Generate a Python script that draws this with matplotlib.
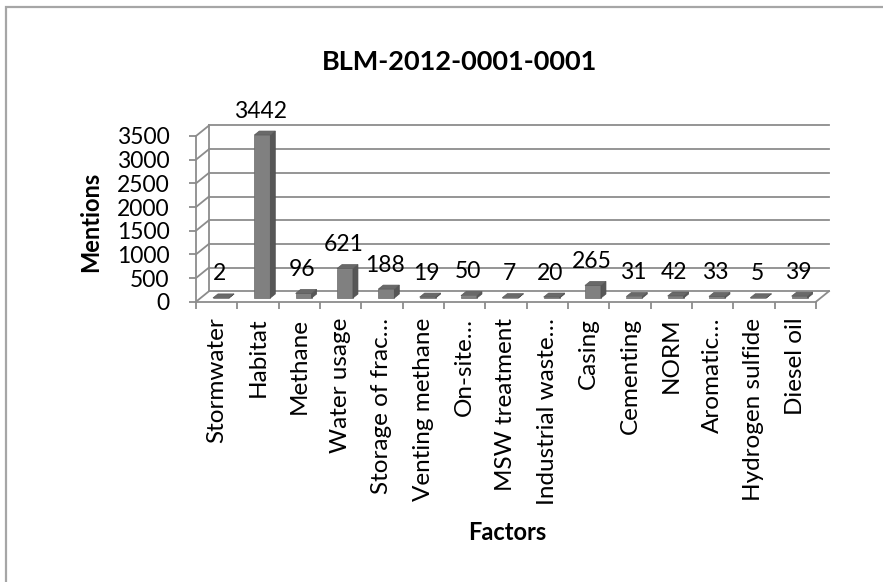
import matplotlib.pyplot as plt
from matplotlib.patches import Polygon, Rectangle

plt.rcParams['font.family'] = ['Lato', 'DejaVu Sans']

title = "BLM-2012-0001-0001"
factors = ["Stormwater", "Habitat", "Methane", "Water usage", "Storage of frac\u2026",
           "Venting methane", "On-site\u2026", "MSW treatment", "Industrial waste\u2026",
           "Casing", "Cementing", "NORM", "Aromatic\u2026", "Hydrogen sulfide", "Diesel oil"]
mentions = [2, 3442, 96, 621, 188, 19, 50, 7, 20, 265, 31, 42, 33, 5, 39]
y_ticks = [0, 500, 1000, 1500, 2000, 2500, 3000, 3500]

W, H = 883, 582
fig = plt.figure(figsize=(W / 100, H / 100), dpi=100)

# front plane of the 3-d box, in pixels
x0, x1 = 196, 816
y0, y1 = 301.7, 136
ax = fig.add_axes([x0 / W, 1 - y0 / H, (x1 - x0) / W, (y0 - y1) / H])
n = len(factors)
ax.set_xlim(-0.5, n - 0.5)
ax.set_ylim(0, 3500)
ax.set_facecolor('none')

# pixel -> data unit factors
px_x = n / (x1 - x0)
px_y = 3500 / (y0 - y1)

grid_c = '#8c8c8c'
# depth of the box (back wall offset)
bdx, bdy = 13 * px_x, 10.5 * px_y

for v in y_ticks:
    ax.plot([-0.5 + bdx, n - 0.5 + bdx], [v + bdy, v + bdy], color=grid_c, lw=1.3, clip_on=False, zorder=1)
    ax.plot([-0.5, -0.5 + bdx], [v, v + bdy], color=grid_c, lw=1.3, clip_on=False, zorder=1)
ax.plot([-0.5 + bdx, -0.5 + bdx], [bdy, 3500 + bdy], color=grid_c, lw=1.3, clip_on=False, zorder=1)
ax.plot([n - 0.5, n - 0.5 + bdx], [0, bdy], color=grid_c, lw=1.3, clip_on=False, zorder=1)

# bars: front face, right side, top
fx, fy = 4.3 * px_x, 3.7 * px_y
bw = 16 * px_x
sdx, sdy = 5 * px_x, 4 * px_y
for i, v in enumerate(mentions):
    l = i - bw / 2 + fx
    r = i + bw / 2 + fx
    b, t = fy, v + fy
    ax.add_patch(Polygon([(l, b), (r, b), (r, t), (l, t)], closed=True,
                         facecolor='#808080', edgecolor='#6a6a6a', lw=0.5, zorder=3, clip_on=False))
    ax.add_patch(Polygon([(r, b), (r + sdx, b + sdy), (r + sdx, t + sdy), (r, t)], closed=True,
                         facecolor='#575757', edgecolor='#505050', lw=0.5, zorder=3, clip_on=False))
    ax.add_patch(Polygon([(l, t), (r, t), (r + sdx, t + sdy), (l + sdx, t + sdy)], closed=True,
                         facecolor='#696969', edgecolor='#5a5a5a', lw=0.5, zorder=4, clip_on=False))
    ax.text(i + 3 * px_x, t + 24 * px_y, str(v), ha='center', va='center',
            fontsize=16.5, zorder=5, clip_on=False)

for s in ['top', 'right']:
    ax.spines[s].set_visible(False)
for s in ['left', 'bottom']:
    ax.spines[s].set_color(grid_c)
    ax.spines[s].set_linewidth(1.3)

ax.set_yticks(y_ticks)
ax.set_yticklabels([str(v) for v in y_ticks], fontsize=16.5)
ax.tick_params(axis='y', length=5, color=grid_c, width=1.3, pad=14)

ax.set_xticks(range(n))
ax.set_xticklabels(factors, rotation=90, fontsize=17.5)
ax.tick_params(axis='x', which='major', length=0, pad=11.5)
ax.set_xticks([i - 0.5 for i in range(n + 1)], minor=True)
ax.tick_params(axis='x', which='minor', length=5, color=grid_c, width=1.3)

fig.text(460 / W, 1 - 62 / H, title, ha='center', va='center', fontsize=19.5, fontweight='bold')
fig.text(91 / W, 1 - 222 / H, "Mentions", ha='center', va='center', rotation=90,
         fontsize=17, fontweight='bold')
fig.text(507 / W, 1 - 533 / H, "Factors", ha='center', va='center', fontsize=17, fontweight='bold')

# chart border
fig.add_artist(Rectangle((6 / W, -0.05), 1.0, 1 - 7 / H + 0.05, transform=fig.transFigure,
                         fill=False, edgecolor='#a6a6a6', lw=1.6))

fig.savefig('out.png', dpi=100)
